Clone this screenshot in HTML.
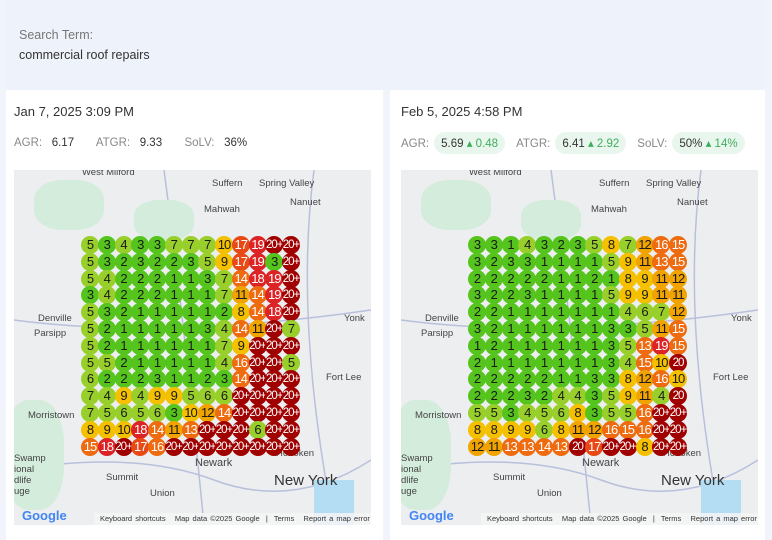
<!DOCTYPE html>
<html><head><meta charset="utf-8"><style>
*{margin:0;padding:0;box-sizing:border-box}
body{width:772px;height:540px;background:#f1f4fa;font-family:"Liberation Sans",sans-serif;position:relative;overflow:hidden;color:#333}
.top{position:absolute;left:6px;top:0;width:758px;height:90px;background:#eef2fa}
.st{position:absolute;left:19px;top:28px;font-size:12.5px;color:#777}
.sv{position:absolute;left:19px;top:48px;font-size:12.5px;color:#333}
.panel{position:absolute;top:90px;height:450px;background:#fff}
.date{position:absolute;top:14px;font-size:13px;color:#333}
.m{position:absolute;top:47px;font-size:11.5px;color:#888;white-space:nowrap}
.m b{font-weight:normal;color:#333}
.pill{display:inline-block;background:#e9f6ee;border-radius:12px;padding:4px 7px;color:#333;margin:0 11px 0 5px}
.pill span{color:#3fae5c}
.map{position:absolute;top:170px;width:357px;height:355px;background:#eceef0;overflow:hidden}
.map svg{position:absolute;left:0;top:0}
.map .gr{position:absolute;background:#d3ecdb;border-radius:40%}
.map .wt{position:absolute;background:#b4dcf3}
.lab{position:absolute;font-size:9.5px;color:#444;white-space:nowrap}
.big{font-size:15px;color:#333}
.foot{position:absolute;left:80px;bottom:0;width:277px;height:12px;background:rgba(245,245,245,.85);font-size:7.5px;color:#333;line-height:12px;padding-left:6px;white-space:nowrap;word-spacing:1px}
.goo{position:absolute;left:8px;bottom:2px;font-size:13px;font-weight:bold;color:#4285f4}
.grid{position:absolute;display:grid;grid-template-columns:repeat(13,16.75px);grid-auto-rows:16.8px}
.grid i{font-style:normal;width:18px;height:18px;margin:-0.6px;border-radius:50%;text-align:center;line-height:18px;font-size:13px;color:#1a1a1a;letter-spacing:-1px;overflow:hidden;white-space:nowrap}
.a{background:#55c41c}.b{background:#98cf2b}.c{background:#f4c000}.d{background:#f1a300}
.e{background:#ee6b10;color:#fff!important}.f{background:#e84a17;color:#fff!important}.g{background:#dc2326;color:#fff!important}.h{background:#a00000;color:#fff!important;font-size:11.5px!important}
</style></head><body>
<div class="top"></div>
<div class="st">Search Term:</div>
<div class="sv">commercial roof repairs</div>

<div class="panel" style="left:6px;width:377px">
<div class="date" style="left:8px">Jan 7, 2025 3:09 PM</div>
<div class="m" style="left:8px">AGR:&nbsp;&nbsp; <b>6.17</b>&nbsp;&nbsp;&nbsp;&nbsp;&nbsp;&nbsp; ATGR:&nbsp;&nbsp; <b>9.33</b>&nbsp;&nbsp;&nbsp;&nbsp;&nbsp;&nbsp; SoLV:&nbsp;&nbsp; <b>36%</b></div>
</div>
<div class="panel" style="left:390px;width:375px">
<div class="date" style="left:11px">Feb 5, 2025 4:58 PM</div>
<div class="m" style="left:11px;top:42px">AGR:<span class="pill">5.69 <span>▴ 0.48</span></span>ATGR:<span class="pill">6.41 <span>▴ 2.92</span></span>SoLV:<span class="pill">50% <span>▴ 14%</span></span></div>
</div>

<div class="map" style="left:14px">
<svg width="357" height="355"><g stroke="#b8c0dc" stroke-width="1.5" fill="none"><path d="M0 300 Q120 280 200 310 T357 290"/><path d="M150 0 Q170 150 190 355"/><path d="M300 0 Q280 150 320 355"/><path d="M0 150 Q150 170 357 140"/></g></svg>
<div class="gr" style="left:-10px;top:230px;width:60px;height:110px"></div>
<div class="gr" style="left:20px;top:10px;width:70px;height:50px"></div>
<div class="gr" style="left:120px;top:30px;width:60px;height:40px"></div>
<div class="wt" style="left:300px;top:310px;width:40px;height:45px"></div>
<div class="lab" style="left:68px;top:-3px">West Milford</div>
<div class="lab" style="left:198px;top:8px">Suffern</div><div class="lab" style="left:245px;top:8px">Spring Valley</div>
<div class="lab" style="left:190px;top:34px">Mahwah</div><div class="lab" style="left:276px;top:27px">Nanuet</div>
<div class="lab" style="left:330px;top:143px">Yonk</div>
<div class="lab" style="left:24px;top:143px">Denville</div><div class="lab" style="left:20px;top:158px">Parsipp</div>
<div class="lab" style="left:312px;top:202px">Fort Lee</div>
<div class="lab" style="left:14px;top:240px">Morristown</div>
<div class="lab" style="left:0;top:283px;line-height:11px">Swamp<br>ional<br>dlife<br>uge</div>
<div class="lab" style="left:92px;top:302px">Summit</div><div class="lab" style="left:136px;top:318px">Union</div>
<div class="lab" style="left:181px;top:287px;font-size:11px">Newark</div><div class="lab" style="left:262px;top:278px">Hoboken</div>
<div class="lab big" style="left:260px;top:302px">New York</div>
<div class="goo">Google</div>
<div class="foot">Keyboard shortcuts &nbsp; Map data ©2025 Google &nbsp;|&nbsp; Terms &nbsp; Report a map error</div>
</div>
<div class="map" style="left:401px">
<svg width="357" height="355"><g stroke="#b8c0dc" stroke-width="1.5" fill="none"><path d="M0 300 Q120 280 200 310 T357 290"/><path d="M150 0 Q170 150 190 355"/><path d="M300 0 Q280 150 320 355"/><path d="M0 150 Q150 170 357 140"/></g></svg>
<div class="gr" style="left:-10px;top:230px;width:60px;height:110px"></div>
<div class="gr" style="left:20px;top:10px;width:70px;height:50px"></div>
<div class="gr" style="left:120px;top:30px;width:60px;height:40px"></div>
<div class="wt" style="left:300px;top:310px;width:40px;height:45px"></div>
<div class="lab" style="left:68px;top:-3px">West Milford</div>
<div class="lab" style="left:198px;top:8px">Suffern</div><div class="lab" style="left:245px;top:8px">Spring Valley</div>
<div class="lab" style="left:190px;top:34px">Mahwah</div><div class="lab" style="left:276px;top:27px">Nanuet</div>
<div class="lab" style="left:330px;top:143px">Yonk</div>
<div class="lab" style="left:24px;top:143px">Denville</div><div class="lab" style="left:20px;top:158px">Parsipp</div>
<div class="lab" style="left:312px;top:202px">Fort Lee</div>
<div class="lab" style="left:14px;top:240px">Morristown</div>
<div class="lab" style="left:0;top:283px;line-height:11px">Swamp<br>ional<br>dlife<br>uge</div>
<div class="lab" style="left:92px;top:302px">Summit</div><div class="lab" style="left:136px;top:318px">Union</div>
<div class="lab" style="left:181px;top:287px;font-size:11px">Newark</div><div class="lab" style="left:262px;top:278px">Hoboken</div>
<div class="lab big" style="left:260px;top:302px">New York</div>
<div class="goo">Google</div>
<div class="foot">Keyboard shortcuts &nbsp; Map data ©2025 Google &nbsp;|&nbsp; Terms &nbsp; Report a map error</div>
</div>

<div class="grid" style="left:81.6px;top:236.6px">
<i class="b">5</i><i class="a">3</i><i class="b">4</i><i class="a">3</i><i class="a">3</i><i class="b">7</i><i class="b">7</i><i class="b">7</i><i class="c">10</i><i class="f">17</i><i class="g">19</i><i class="h">20+</i><i class="h">20+</i>
<i class="b">5</i><i class="a">3</i><i class="a">2</i><i class="a">3</i><i class="a">2</i><i class="a">2</i><i class="a">3</i><i class="b">5</i><i class="c">9</i><i class="f">17</i><i class="g">19</i><i class="a">3</i><i class="h">20+</i>
<i class="b">5</i><i class="b">4</i><i class="a">2</i><i class="a">2</i><i class="a">2</i><i class="a">1</i><i class="a">1</i><i class="a">3</i><i class="b">7</i><i class="e">14</i><i class="g">18</i><i class="g">19</i><i class="h">20+</i>
<i class="a">3</i><i class="b">4</i><i class="a">2</i><i class="a">2</i><i class="a">2</i><i class="a">1</i><i class="a">1</i><i class="a">1</i><i class="b">7</i><i class="d">11</i><i class="e">14</i><i class="g">19</i><i class="h">20+</i>
<i class="b">5</i><i class="a">3</i><i class="a">2</i><i class="a">1</i><i class="a">1</i><i class="a">1</i><i class="a">1</i><i class="a">1</i><i class="a">2</i><i class="c">8</i><i class="e">14</i><i class="g">18</i><i class="h">20+</i>
<i class="b">5</i><i class="a">2</i><i class="a">1</i><i class="a">1</i><i class="a">1</i><i class="a">1</i><i class="a">1</i><i class="a">3</i><i class="b">4</i><i class="e">14</i><i class="d">11</i><i class="h">20+</i><i class="b">7</i>
<i class="b">5</i><i class="a">2</i><i class="a">1</i><i class="a">1</i><i class="a">1</i><i class="a">1</i><i class="a">1</i><i class="a">1</i><i class="b">7</i><i class="c">9</i><i class="h">20+</i><i class="h">20+</i><i class="h">20+</i>
<i class="b">5</i><i class="b">5</i><i class="a">2</i><i class="a">1</i><i class="a">1</i><i class="a">1</i><i class="a">1</i><i class="a">1</i><i class="b">4</i><i class="e">16</i><i class="h">20+</i><i class="h">20+</i><i class="b">5</i>
<i class="b">6</i><i class="a">2</i><i class="a">2</i><i class="a">2</i><i class="a">3</i><i class="a">1</i><i class="a">1</i><i class="a">2</i><i class="a">3</i><i class="e">14</i><i class="h">20+</i><i class="h">20+</i><i class="h">20+</i>
<i class="b">7</i><i class="b">4</i><i class="c">9</i><i class="b">4</i><i class="c">9</i><i class="c">9</i><i class="b">5</i><i class="b">6</i><i class="b">6</i><i class="h">20+</i><i class="h">20+</i><i class="h">20+</i><i class="h">20+</i>
<i class="b">7</i><i class="b">5</i><i class="b">6</i><i class="b">5</i><i class="b">6</i><i class="a">3</i><i class="c">10</i><i class="d">12</i><i class="e">14</i><i class="h">20+</i><i class="h">20+</i><i class="h">20+</i><i class="h">20+</i>
<i class="c">8</i><i class="c">9</i><i class="c">10</i><i class="g">18</i><i class="e">14</i><i class="d">11</i><i class="e">13</i><i class="h">20+</i><i class="h">20+</i><i class="h">20+</i><i class="b">6</i><i class="h">20+</i><i class="h">20+</i>
<i class="e">15</i><i class="g">18</i><i class="h">20+</i><i class="f">17</i><i class="e">16</i><i class="h">20+</i><i class="h">20+</i><i class="h">20+</i><i class="h">20+</i><i class="h">20+</i><i class="h">20+</i><i class="h">20+</i><i class="h">20+</i>
</div>

<div class="grid" style="left:468.6px;top:236.6px">
<i class="a">3</i><i class="a">3</i><i class="a">1</i><i class="b">4</i><i class="a">3</i><i class="a">2</i><i class="a">3</i><i class="b">5</i><i class="c">8</i><i class="b">7</i><i class="d">12</i><i class="e">16</i><i class="e">15</i>
<i class="a">3</i><i class="a">2</i><i class="a">3</i><i class="a">3</i><i class="a">1</i><i class="a">1</i><i class="a">1</i><i class="a">1</i><i class="b">5</i><i class="c">9</i><i class="d">11</i><i class="e">13</i><i class="e">15</i>
<i class="a">2</i><i class="a">2</i><i class="a">2</i><i class="a">2</i><i class="a">2</i><i class="a">1</i><i class="a">1</i><i class="a">2</i><i class="a">1</i><i class="c">8</i><i class="c">9</i><i class="d">11</i><i class="d">12</i>
<i class="a">3</i><i class="a">2</i><i class="a">2</i><i class="a">3</i><i class="a">1</i><i class="a">1</i><i class="a">1</i><i class="a">1</i><i class="b">5</i><i class="c">9</i><i class="c">9</i><i class="d">11</i><i class="d">11</i>
<i class="a">2</i><i class="a">2</i><i class="a">1</i><i class="a">1</i><i class="a">1</i><i class="a">1</i><i class="a">1</i><i class="a">1</i><i class="a">1</i><i class="b">4</i><i class="b">6</i><i class="b">7</i><i class="d">12</i>
<i class="a">3</i><i class="a">2</i><i class="a">1</i><i class="a">1</i><i class="a">1</i><i class="a">1</i><i class="a">1</i><i class="a">1</i><i class="a">3</i><i class="a">3</i><i class="b">5</i><i class="d">11</i><i class="e">15</i>
<i class="a">1</i><i class="a">2</i><i class="a">1</i><i class="a">1</i><i class="a">1</i><i class="a">1</i><i class="a">1</i><i class="a">1</i><i class="a">3</i><i class="b">5</i><i class="e">13</i><i class="g">19</i><i class="e">15</i>
<i class="a">2</i><i class="a">1</i><i class="a">1</i><i class="a">1</i><i class="a">1</i><i class="a">1</i><i class="a">1</i><i class="a">1</i><i class="a">3</i><i class="b">4</i><i class="e">15</i><i class="c">10</i><i class="h">20</i>
<i class="a">2</i><i class="a">2</i><i class="a">2</i><i class="a">2</i><i class="a">2</i><i class="a">1</i><i class="a">1</i><i class="a">3</i><i class="a">3</i><i class="c">8</i><i class="d">12</i><i class="e">16</i><i class="c">10</i>
<i class="a">2</i><i class="a">2</i><i class="a">2</i><i class="a">3</i><i class="a">2</i><i class="b">4</i><i class="b">4</i><i class="a">3</i><i class="b">5</i><i class="c">9</i><i class="d">11</i><i class="b">4</i><i class="h">20</i>
<i class="b">5</i><i class="b">5</i><i class="a">3</i><i class="b">4</i><i class="b">5</i><i class="b">6</i><i class="c">8</i><i class="a">3</i><i class="b">5</i><i class="b">5</i><i class="e">16</i><i class="h">20+</i><i class="h">20+</i>
<i class="c">8</i><i class="c">8</i><i class="c">9</i><i class="c">9</i><i class="b">6</i><i class="c">8</i><i class="d">11</i><i class="d">12</i><i class="e">16</i><i class="e">15</i><i class="e">16</i><i class="h">20+</i><i class="h">20+</i>
<i class="d">12</i><i class="d">11</i><i class="e">13</i><i class="e">13</i><i class="e">14</i><i class="e">13</i><i class="h">20</i><i class="f">17</i><i class="h">20+</i><i class="h">20+</i><i class="c">8</i><i class="h">20+</i><i class="h">20+</i>
</div>
</body></html>
